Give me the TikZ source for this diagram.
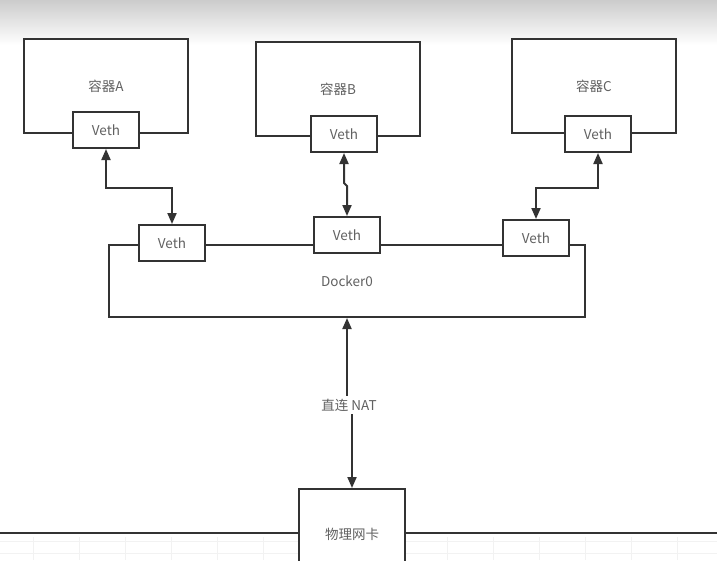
\documentclass[tikz,border=0pt]{standalone}
\usepackage{fontspec}
\setmainfont{Noto Sans CJK SC}
\usetikzlibrary{positioning, arrows.meta, calc}

\begin{document}
\begin{tikzpicture}[
    x=1pt, y=-1pt,
    font=\fontsize{13.5}{16}\selectfont,
    box/.style={draw=black!80, line width=2pt, fill=white, text=black!62, inner sep=0pt},
    ctr/.style={box, minimum width=164pt, minimum height=94pt},
    veth/.style={box, minimum width=66pt, minimum height=36pt},
    wire/.style={draw=black!80, line width=2pt},
    link/.style={wire, {Triangle[length=11pt,width=9pt]}-{Triangle[length=11pt,width=9pt]}},
    q/.style={fill=white, text=black!62, inner sep=3pt},
  ]

\useasboundingbox (0,0) rectangle (717,560);
\clip (0,0) rectangle (717,560);
\shade[top color=black!20, bottom color=white] (0,0) rectangle (717,45);
\foreach \gx in {33,79,...,717}
    \draw[black!5] (\gx,537) -- (\gx,560);
\foreach \gy in {541,553}
    \draw[black!5] (0,\gy) -- (717,\gy);

% containers
\node[ctr] (cA) at (106,86) {容器A};
\node[ctr] (cB) at (338,89) {容器B};
\node[ctr] (cC) at (594,86) {容器C};
\node[veth] (vA) at (106,130) {Veth};
\node[veth] (vB) at (344,134) {Veth};
\node[veth] (vC) at (598,134) {Veth};

% docker0 bridge
\node[box, minimum width=476pt, minimum height=72pt] (dk) at (347,281) {Docker0};
\node[veth] (v1) at (172,243) {Veth};
\node[veth] (v2) at (347,235) {Veth};
\node[veth] (v3) at (536,238) {Veth};

% physical nic
\node[box, minimum width=106pt, minimum height=90pt] (nic) at (352,534) {物理网卡};
\coordinate (lw) at (0,533);
\coordinate (le) at (717,533);
\draw[wire] (lw) -- (nic.west |- lw);
\draw[wire] (nic.east |- le) -- (le);

% veth pairs
\draw[link] (vA.south) -- ++(0,39) -| (v1.north);
\draw[link] (vB.south) -- ++(0,30) -- ++(3,3) -- (v2.north);
\draw[link] (vC.south) -- ++(0,35) -| (v3.north);

% nat
\node[q] (nat) at (349,405) {直连 NAT};
\draw[wire, {Triangle[length=11pt,width=9pt]}-] (dk.south) -- (dk.south |- nat.north);
\draw[wire, -{Triangle[length=11pt,width=9pt]}] (nic.north |- nat.south) -- (nic.north);
\end{tikzpicture}
\end{document}
